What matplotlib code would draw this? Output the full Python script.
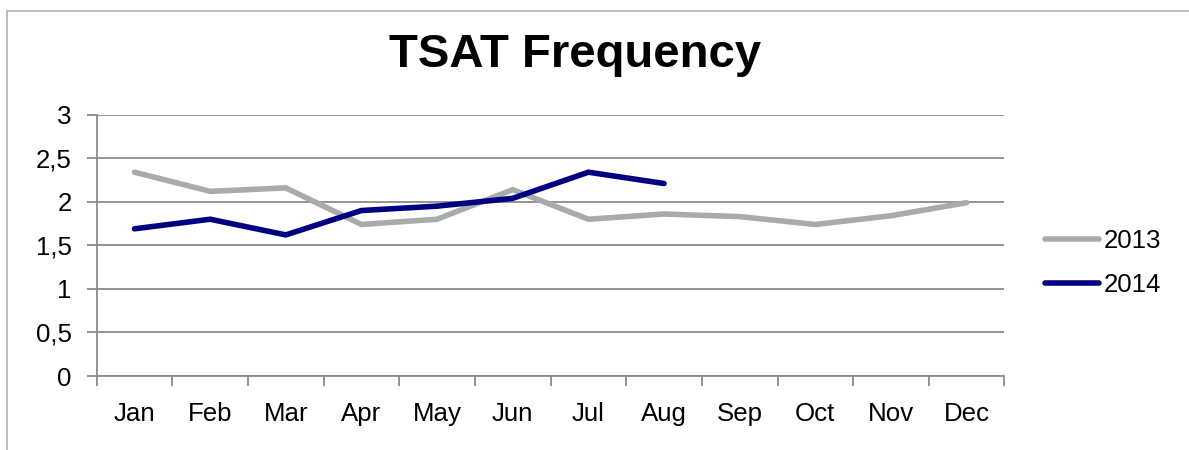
import numpy as np
import matplotlib.pyplot as plt
from matplotlib.patches import Rectangle

months = ['Jan', 'Feb', 'Mar', 'Apr', 'May', 'Jun',
          'Jul', 'Aug', 'Sep', 'Oct', 'Nov', 'Dec']
tsat_2013 = [2.34, 2.12, 2.16, 1.74, 1.80, 2.14, 1.80, 1.86, 1.83, 1.74, 1.84, 1.99]
tsat_2014 = [1.69, 1.80, 1.62, 1.90, 1.95, 2.04, 2.34, 2.21]
ytick_vals = [0, 0.5, 1, 1.5, 2, 2.5, 3]
ytick_labels = ['0', '0,5', '1', '1,5', '2', '2,5', '3']

plt.rcParams['font.family'] = ['Liberation Sans', 'DejaVu Sans']

fig = plt.figure(figsize=(11.89, 4.5), dpi=100)
# light chart frame, open to the right and bottom like the original crop
fig.patches.append(Rectangle((7 / 1189, -0.1), 1.2, 1 - 11 / 450 + 0.1,
                             transform=fig.transFigure, fill=False,
                             edgecolor='#BFBFBF', linewidth=1.5))

ax = fig.add_axes([0.0813, 0.1644, 0.8448 - 0.0813, 0.7451 - 0.1644])

x = np.arange(len(months)) + 0.5
ax.plot(x, tsat_2013, color='#A7ABAA', linewidth=4, solid_capstyle='round',
        solid_joinstyle='miter', label='2013', zorder=3)
ax.plot(x[:len(tsat_2014)], tsat_2014, color='#000080', linewidth=4,
        solid_capstyle='round', solid_joinstyle='miter', label='2014', zorder=4)

ax.set_xlim(0, len(months))
ax.set_ylim(0, 3)
ax.set_yticks(ytick_vals)
ax.set_yticklabels(ytick_labels)
ax.set_xticks(np.arange(len(months) + 1))
ax.set_xticklabels([])
ax.set_xticks(x, minor=True)
ax.set_xticklabels(months, minor=True)

ax.grid(axis='y', color='#8A8A8A', linewidth=1.3)
ax.set_axisbelow(True)
for s in ['top', 'right']:
    ax.spines[s].set_visible(False)
for s in ['left', 'bottom']:
    ax.spines[s].set_color('#8A8A8A')
    ax.spines[s].set_linewidth(1.3)

ax.tick_params(axis='both', which='major', direction='out', length=7,
               width=1.3, color='#8A8A8A', labelsize=18.6)
ax.tick_params(axis='y', pad=11)
ax.tick_params(axis='x', which='minor', length=0, pad=19, labelsize=18.6)

fig.text(0.4836, 1 - 67 / 450, 'TSAT Frequency', ha='center', va='baseline',
         fontsize=34, fontweight='bold')

fig.legend(loc='center left', bbox_to_anchor=(0.879, 0.4156), frameon=False,
           fontsize=18.6, handlelength=2.1, handletextpad=0.15,
           labelspacing=0.75, borderpad=0, borderaxespad=0)

fig.savefig('out.png', dpi=100)
